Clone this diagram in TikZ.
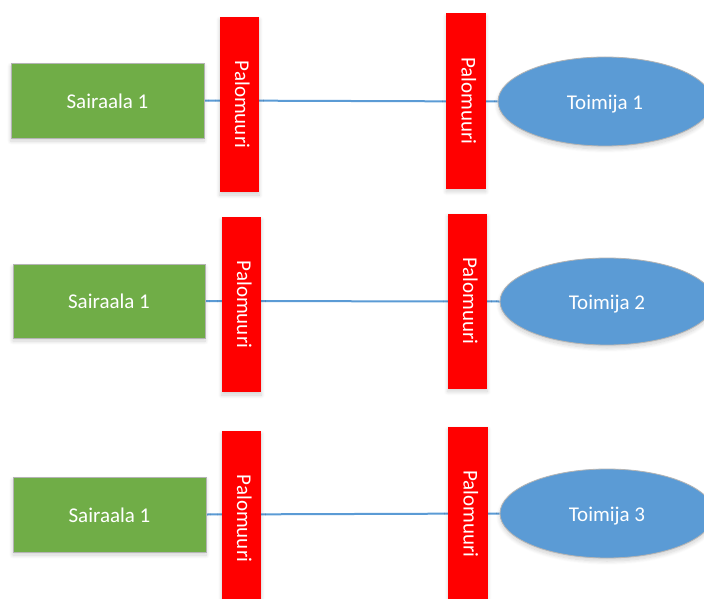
\documentclass[tikz,border=0pt]{standalone}
\usepackage{fontspec}
\setmainfont{Carlito}
\usetikzlibrary{shapes.geometric,shadows.blur,backgrounds}
\definecolor{hospgreen}{HTML}{70AD47}
\definecolor{partblue}{HTML}{5B9BD5}
\definecolor{fwred}{HTML}{FF0000}
\definecolor{edgegray}{HTML}{B4B4B4}
\definecolor{linkblue}{HTML}{5B9BD5}
\tikzset{
  softshadow/.style={blur shadow={shadow xshift=0pt, shadow yshift=-3pt,
      shadow blur radius=4pt, shadow opacity=18, shadow blur steps=8}},
  label font/.style={font=\fontsize{21}{25}\selectfont, text=white,
      text height=15.5pt, text depth=0pt},
  wall text/.style={font=\fontsize{21}{25}\selectfont, text=white,
      rotate=-90, inner sep=0pt, text height=9pt, text depth=0pt},
  hospital/.style={rectangle, fill=hospgreen, draw=edgegray, line width=0.8pt,
      inner sep=0pt, softshadow, label font},
  firewall/.style={rectangle, fill=fwred, inner sep=0pt,
      minimum width=39.5pt, minimum height=175pt, softshadow},
  partner/.style={ellipse, fill=partblue, draw=edgegray, line width=0.8pt,
      inner sep=0pt, minimum width=214pt, softshadow, label font},
  link/.style={draw=linkblue, line width=2pt},
}
\begin{document}
\begin{tikzpicture}[x=1pt, y=-1pt]
\useasboundingbox (0,0) rectangle (704,599);

% row 1
\node[hospital, minimum width=193pt, minimum height=75pt] (s1) at (107.5,100.5) {Sairaala 1};
\node[firewall] (fa1) at (239.5,104.5) {};
\node[wall text] (la1) at (fa1.center) {Palomuuri};
\node[firewall] (fb1) at (466,101) {};
\node[wall text] (lb1) at (fb1.center) {Palomuuri};
\node[partner, minimum height=89pt] (t1) at (605,101.5) {Toimija 1};

% row 2
\node[hospital, minimum width=192pt, minimum height=74pt] (s2) at (109,301) {Sairaala 1};
\node[firewall] (fa2) at (241.5,304.5) {};
\node[wall text] (la2) at (fa2.center) {Palomuuri};
\node[firewall] (fb2) at (467.5,301) {};
\node[wall text] (lb2) at (fb2.center) {Palomuuri};
\node[partner, minimum height=87pt] (t2) at (607,301.5) {Toimija 2};

% row 3
\node[hospital, minimum width=193pt, minimum height=75pt] (s3) at (109.5,514.5) {Sairaala 1};
\node[firewall] (fa3) at (241.5,518.5) {};
\node[wall text] (la3) at (fa3.center) {Palomuuri};
\node[firewall] (fb3) at (468,514) {};
\node[wall text] (lb3) at (fb3.center) {Palomuuri};
\node[partner, minimum height=89pt] (t3) at (607,513.5) {Toimija 3};

% connections run behind the firewalls
\begin{pgfonlayer}{background}
  \draw[link] (s1.east) -- (t1.west);
  \draw[link] (s2.east) -- (t2.west);
  \draw[link] (s3.east) -- (t3.west);
\end{pgfonlayer}
\end{tikzpicture}
\end{document}
